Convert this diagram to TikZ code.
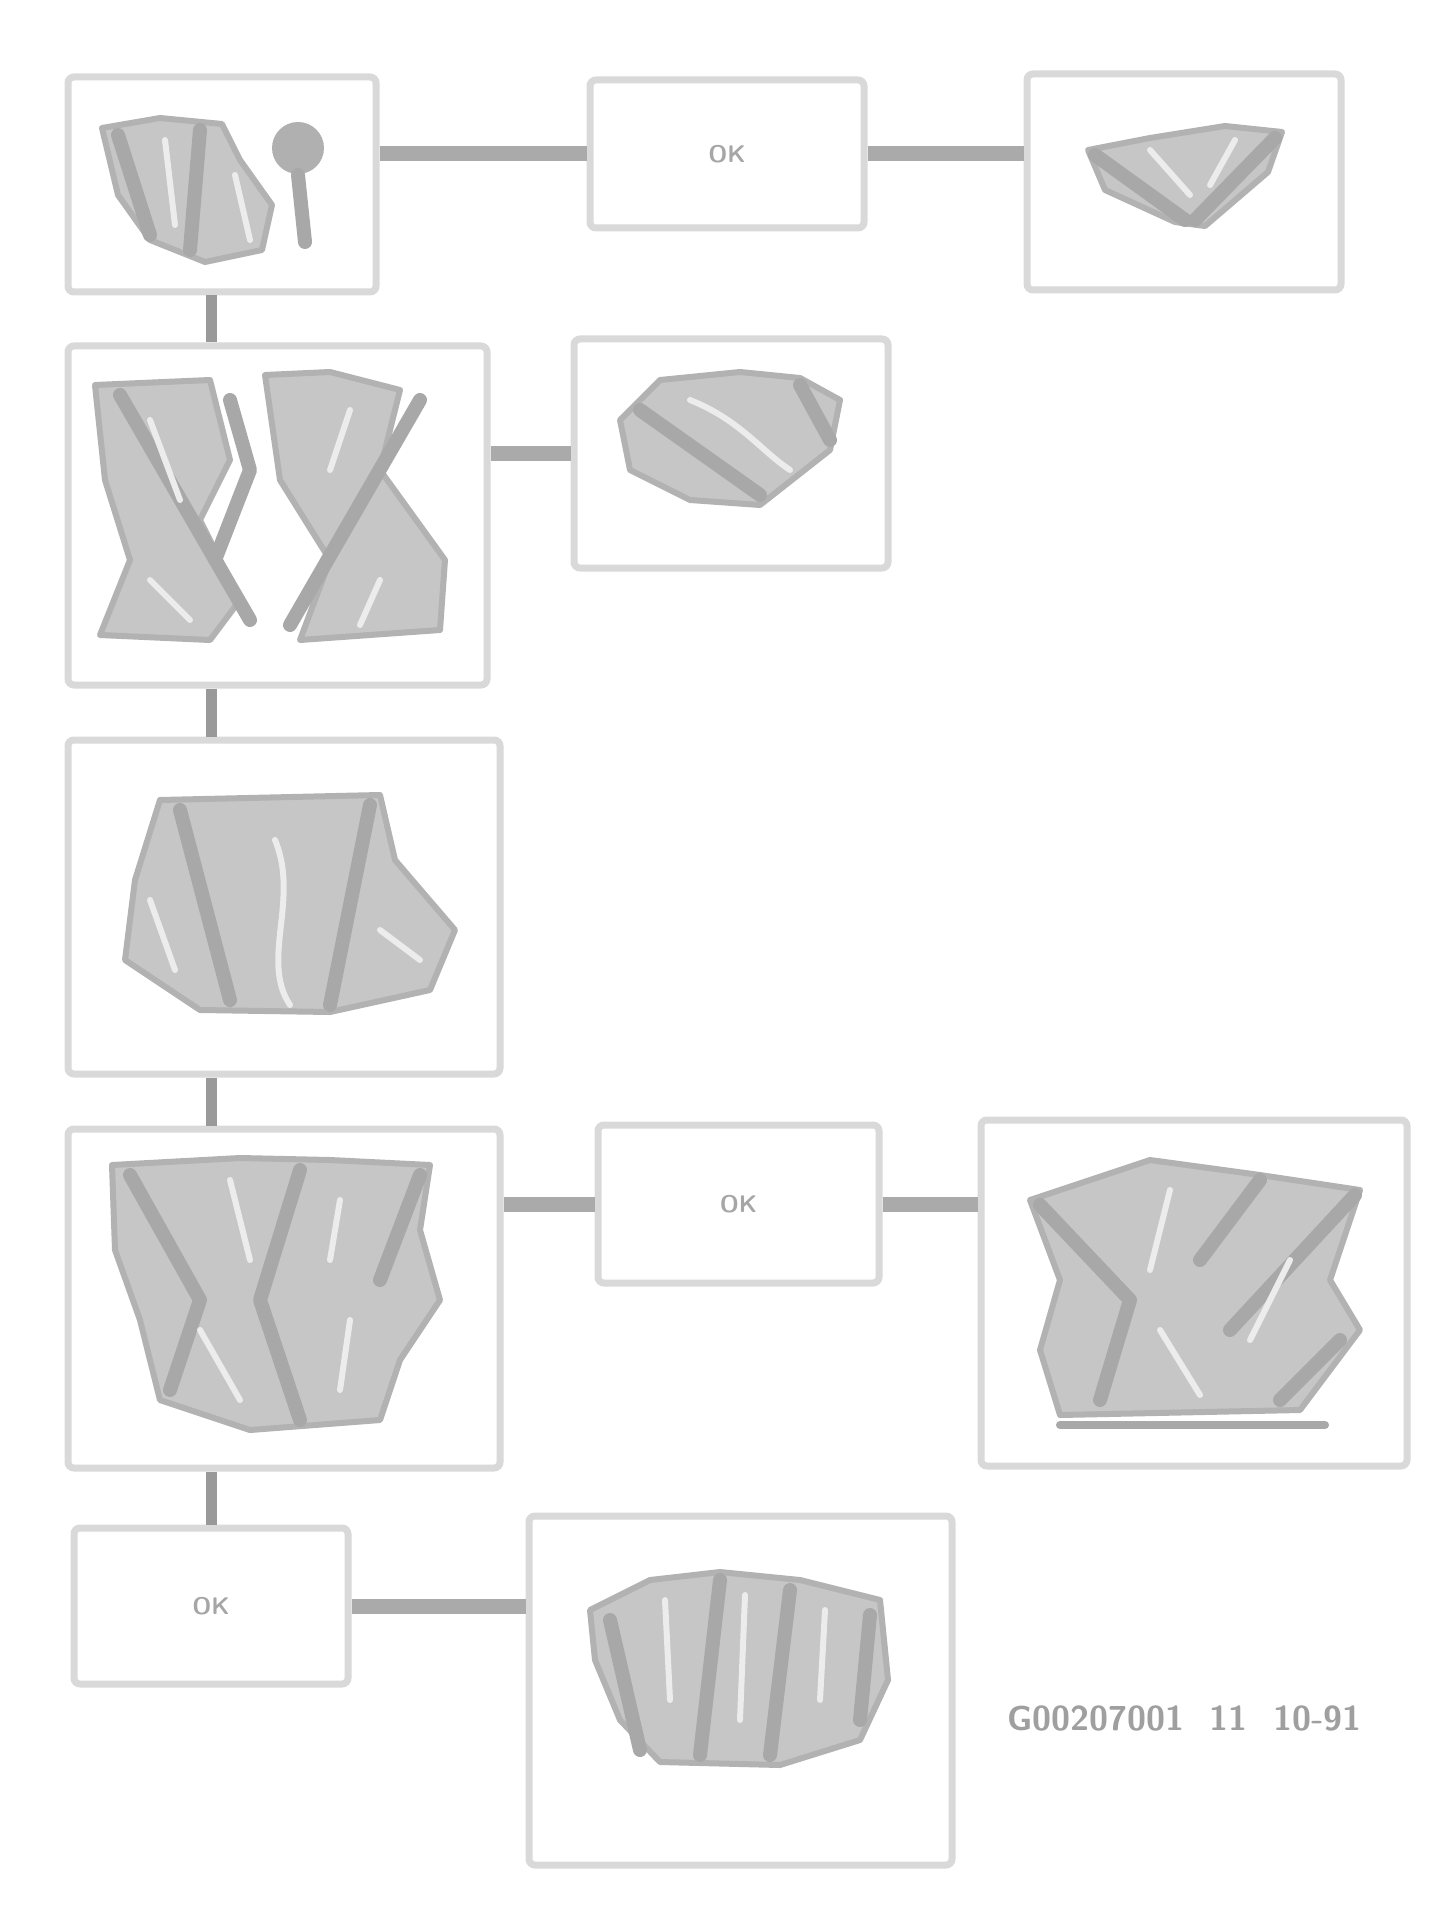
\documentclass[tikz,border=0pt]{standalone}
\usepackage{tikz}
\usetikzlibrary{positioning}

\begin{document}
\begin{tikzpicture}[x=0.5pt,y=-0.5pt,
	panel/.style={draw=gray!30,line width=3.5pt,rounded corners=3pt,fill=white,inner sep=0pt},
	link/.style={draw=gray!67,line width=7.5pt},
	spine/.style={draw=gray!80,line width=5.5pt},
	blob/.style={fill=gray!45,draw=gray!60,line width=3pt,line join=round},
	wire/.style={draw=gray!68,line width=7pt,line cap=round,line join=round},
	streak/.style={draw=white!85!gray,line width=3pt,line cap=round},
	okmark/.style={text=gray!70,font=\sffamily\bfseries\large}]
	\useasboundingbox (0,0) rectangle (1430,1925);

	% boxes of the chart
	\node[panel,minimum width=154pt,minimum height=107.5pt] (A) at (222,184.5) {};
	\node[panel,minimum width=137pt,minimum height=74pt] (B) at (727,154) {};
	\node[panel,minimum width=157pt,minimum height=108pt] (C) at (1184,182) {};
	\node[panel,minimum width=209.5pt,minimum height=169.5pt] (D) at (277.5,515.5) {};
	\node[panel,minimum width=157pt,minimum height=114.5pt] (E) at (731,453.5) {};
	\node[panel,minimum width=216pt,minimum height=167pt] (F) at (284,907) {};
	\node[panel,minimum width=216pt,minimum height=169.5pt] (G) at (284,1298.5) {};
	\node[panel,minimum width=140.5pt,minimum height=79pt] (H) at (738.5,1204) {};
	\node[panel,minimum width=213pt,minimum height=173pt] (I) at (1194,1293) {};
	\node[panel,minimum width=137pt,minimum height=78pt] (J) at (211,1606) {};
	\node[panel,minimum width=211.5pt,minimum height=174.5pt] (K) at (740.5,1690.5) {};

	% connectors
	\draw[link] (B.west) -- (B.west -| A.east);
	\draw[link] (B.east) -- (B.east -| C.west);
	\draw[link] (E.west) -- (E.west -| D.east);
	\draw[link] (H.west) -- (H.west -| G.east);
	\draw[link] (H.east) -- (H.east -| I.west);
	\draw[link] (J.east) -- (J.east -| K.west);
	\foreach \u/\v in {A/D,D/F,F/G,G/J} \draw[spine] (J.center |- \u.south) -- (J.center |- \v.north);

	% small marks
	\foreach \n in {B,H,J} \node[okmark] (ok\n) at (\n.center) {OK};

	% pictures in the boxes
	\filldraw[blob] (102,128) -- (160,118) -- (222,124) -- (240,160) -- (272,205) -- (262,250) -- (205,262) -- (150,240) -- (118,195) -- cycle;
	\fill[gray!62] (298,148) circle (26);
	\draw[wire] (298,175) -- (305,242);
	\draw[wire] (118,135) -- (150,235) (200,130) -- (190,250);
	\draw[streak] (165,140) -- (175,225) (235,175) -- (250,240);

	\filldraw[blob] (1088,150) -- (1150,138) -- (1225,126) -- (1282,132) -- (1268,172) -- (1205,226) -- (1175,222) -- (1105,190) -- cycle;
	\draw[wire] (1095,155) -- (1185,220) (1275,138) -- (1195,220);
	\draw[streak] (1150,150) -- (1190,195) (1235,140) -- (1210,185);

	\filldraw[blob] (95,385) -- (210,380) -- (230,460) -- (200,520) -- (240,600) -- (210,640) -- (100,635) -- (130,560) -- (105,480) -- cycle;
	\filldraw[blob] (265,375) -- (330,372) -- (400,390) -- (380,470) -- (445,560) -- (440,630) -- (300,640) -- (330,560) -- (280,480) -- cycle;
	\draw[wire] (120,395) -- (250,620) (420,400) -- (290,625) (230,400) -- (250,470) -- (215,560);
	\draw[streak] (150,420) -- (180,500) (350,410) -- (330,470) (150,580) -- (190,620) (380,580) -- (360,625);

	\filldraw[blob] (620,420) -- (660,380) -- (740,372) -- (800,378) -- (840,400) -- (830,450) -- (760,505) -- (690,500) -- (630,470) -- cycle;
	\draw[wire] (640,410) -- (760,495) (800,385) -- (830,440);
	\draw[streak] (690,400) .. controls (740,420) and (760,450) .. (790,470);

	\filldraw[blob] (160,800) -- (380,795) -- (395,860) -- (455,930) -- (430,990) -- (330,1012) -- (200,1010) -- (125,960) -- (135,880) -- cycle;
	\draw[wire] (180,810) -- (230,1000) (370,805) -- (330,1005);
	\draw[streak] (275,840) .. controls (300,900) and (260,960) .. (290,1005);
	\draw[streak] (380,930) -- (420,960) (150,900) -- (175,970);

	\filldraw[blob] (112,1165) -- (240,1158) -- (330,1160) -- (430,1165) -- (420,1230) -- (440,1300) -- (400,1360) -- (380,1420) -- (250,1430) -- (160,1400) -- (140,1320) -- (115,1250) -- cycle;
	\draw[wire] (130,1175) -- (200,1300) -- (170,1390) (300,1170) -- (260,1300) -- (300,1420) (420,1175) -- (380,1280);
	\draw[streak] (230,1180) -- (250,1260) (340,1200) -- (330,1260) (200,1330) -- (240,1400) (350,1320) -- (340,1390);

	\filldraw[blob] (1030,1200) -- (1150,1160) -- (1260,1175) -- (1360,1190) -- (1330,1280) -- (1360,1330) -- (1300,1410) -- (1060,1415) -- (1040,1350) -- (1060,1280) -- cycle;
	\draw[wire] (1040,1205) -- (1130,1300) -- (1100,1400) (1355,1195) -- (1230,1330) (1260,1180) -- (1200,1260) (1340,1340) -- (1280,1400);
	\draw[wire,line width=4pt] (1060,1425) -- (1325,1425);
	\draw[streak] (1170,1190) -- (1150,1270) (1290,1260) -- (1250,1340) (1160,1330) -- (1200,1395);

	\filldraw[blob] (590,1610) -- (650,1580) -- (720,1572) -- (800,1580) -- (880,1600) -- (888,1680) -- (860,1740) -- (780,1765) -- (660,1762) -- (620,1720) -- (595,1660) -- cycle;
	\draw[wire] (610,1620) -- (640,1750) (720,1580) -- (700,1755) (790,1590) -- (770,1755) (870,1615) -- (860,1720);
	\draw[streak] (665,1600) -- (670,1700) (745,1595) -- (740,1720) (825,1610) -- (820,1700);

	% figure number
	\node[anchor=west,text=gray!75,font=\sffamily\bfseries\LARGE] (figid) at (1000,1718) {G00207001 \ 11 \ 10-91};
\end{tikzpicture}
\end{document}
